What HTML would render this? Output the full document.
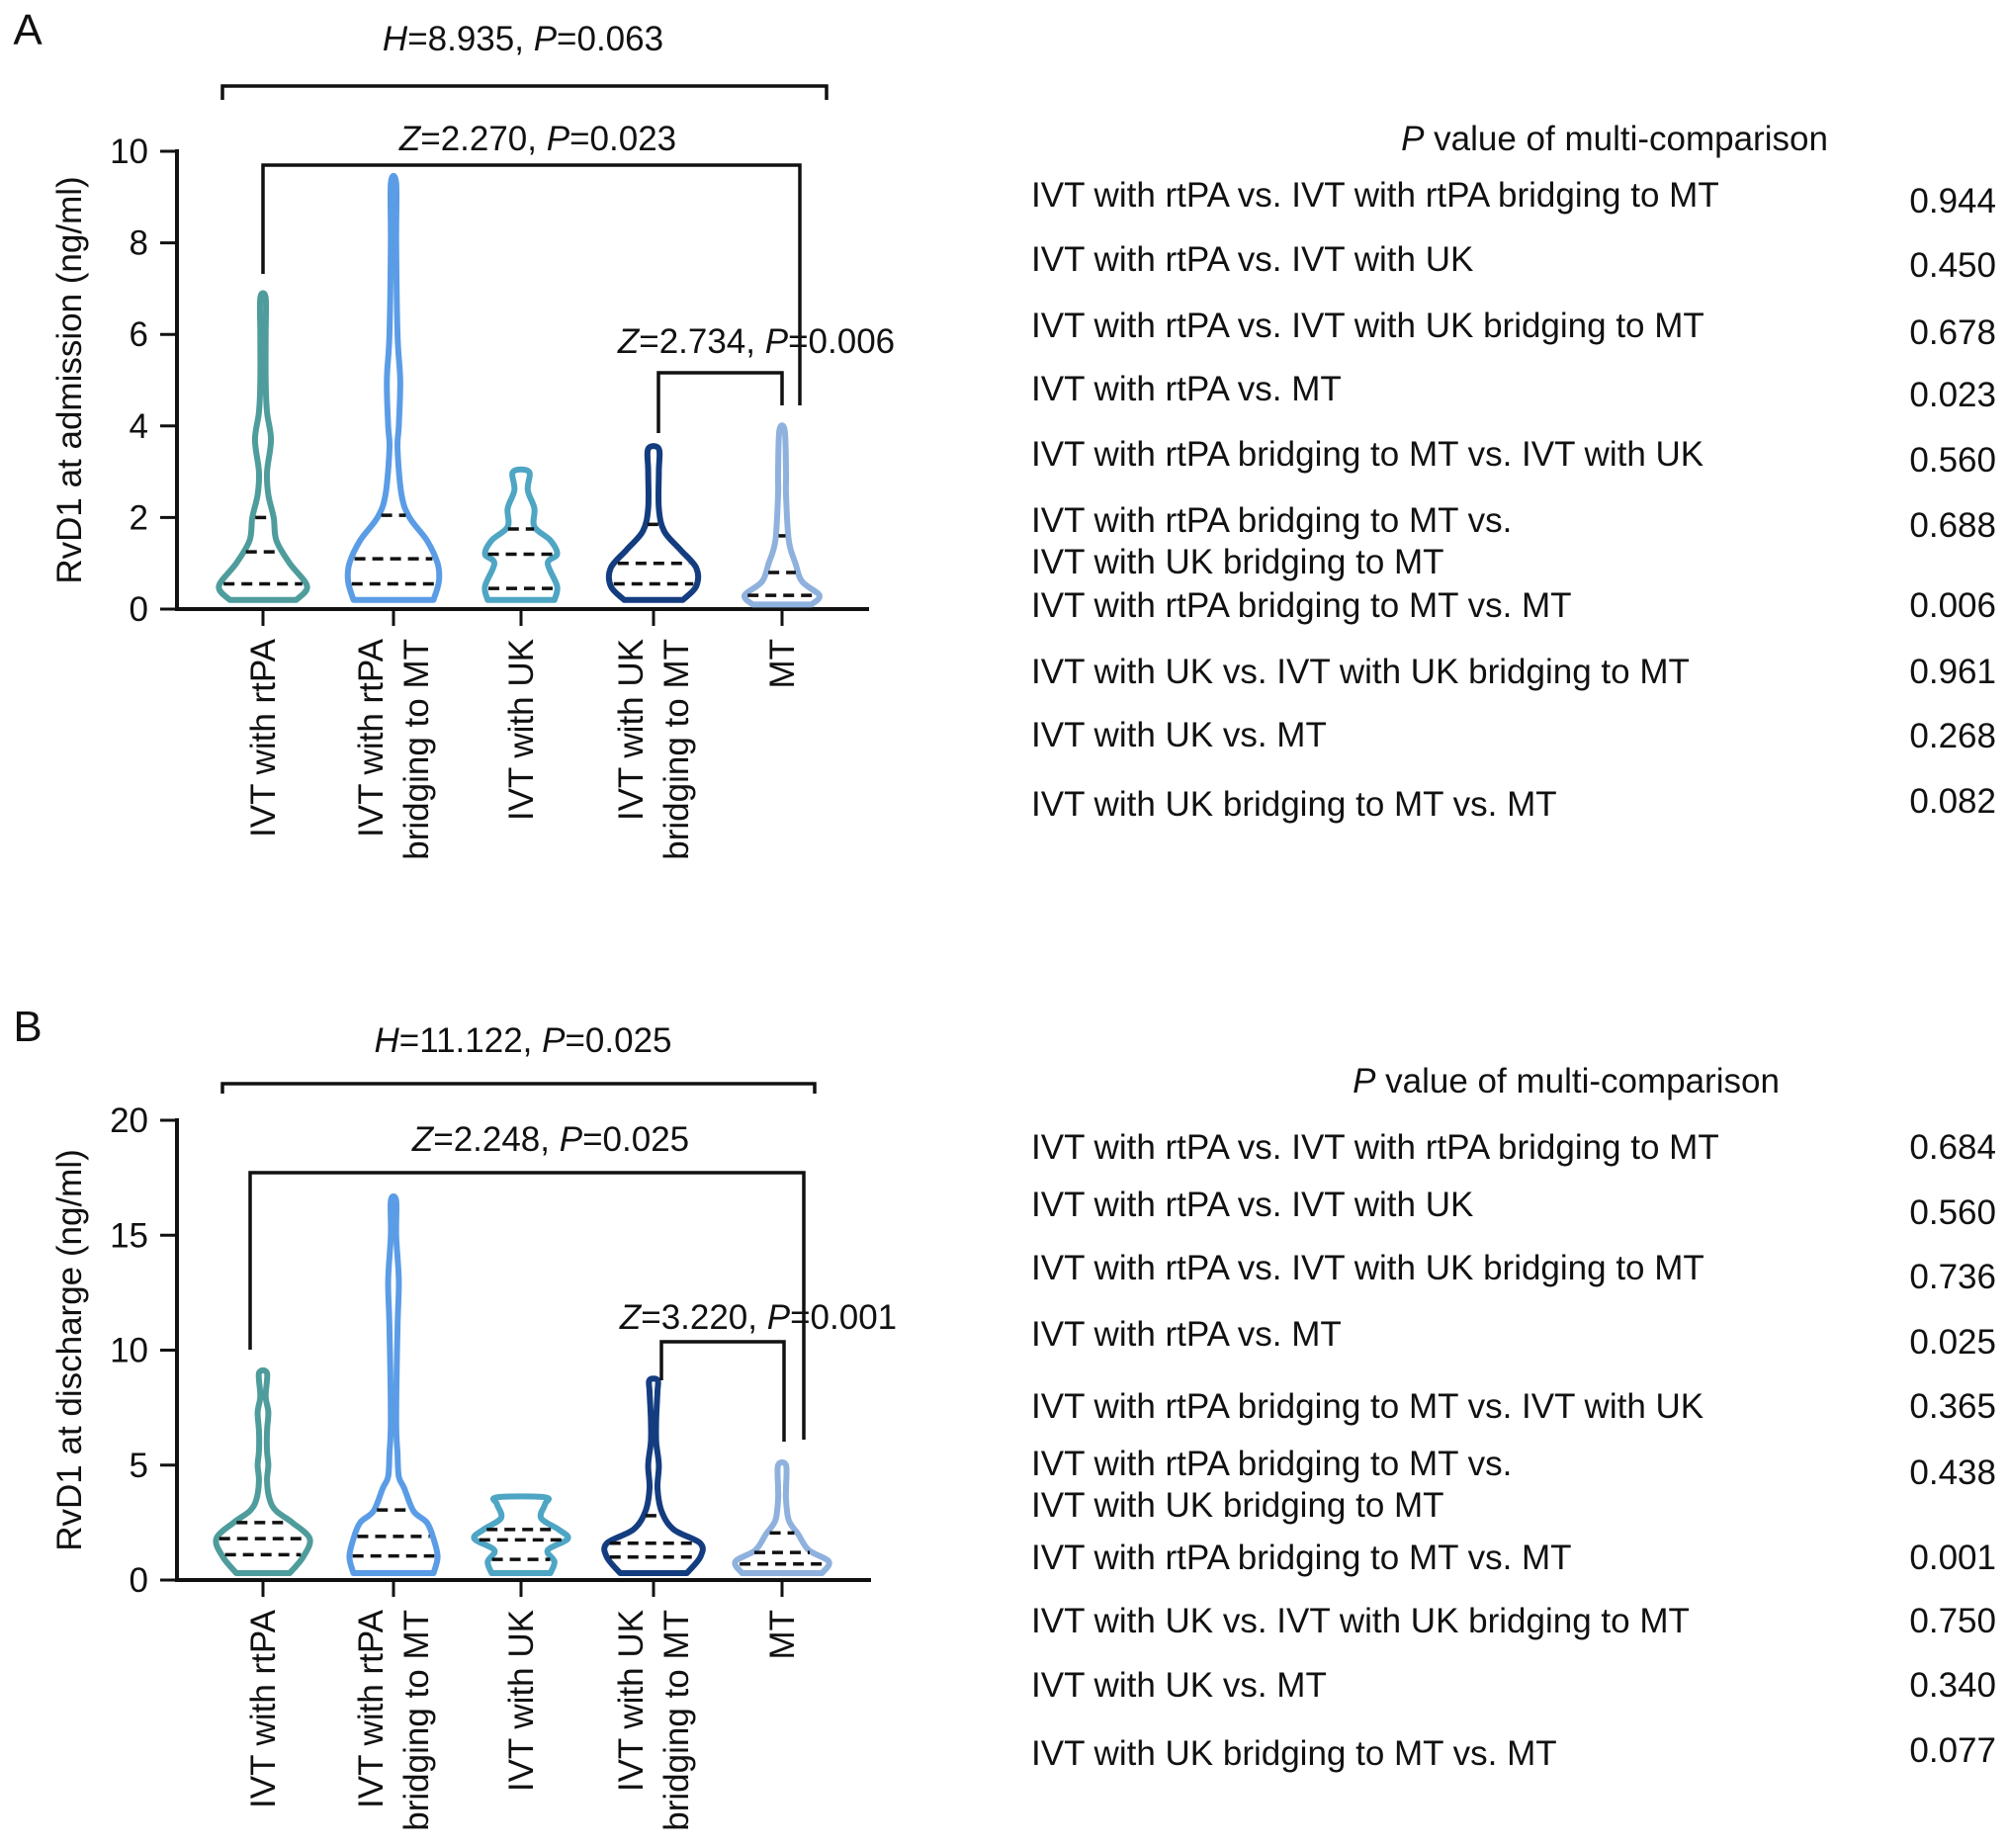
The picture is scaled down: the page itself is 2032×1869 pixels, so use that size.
<!DOCTYPE html>
<html><head><meta charset="utf-8"><style>
html,body{margin:0;padding:0;background:#fff;}
svg{display:block;font-family:"Liberation Sans",Arial,sans-serif;}
</style></head><body>
<svg id="fig" width="2032" height="1869" viewBox="0 0 2032 1869"></svg>
<script>
const categories = ["IVT with rtPA","IVT with rtPA|bridging to MT","IVT with UK","IVT with UK|bridging to MT","MT"];
const colors = ["#4f9c9c","#5b9ce6","#4ea5c4","#143d80","#8fb1dd"];
const aVals = [
 [0.2,0.5,1.0,1.5,2.0,2.5,3.0,3.7,4.3,5,6,6.8],
 [0.2,0.6,1.0,1.5,2.0,2.5,3.5,4.0,5.0,6.0,8.0,9.3],
 [0.2,0.5,1.0,1.2,1.5,1.8,2.2,2.6,3.0],
 [0.2,0.5,0.9,1.3,1.7,2.2,3.0,3.5],
 [0.1,0.3,0.6,1.0,1.5,2.5,3.0,3.9]
];
const aDens = [
 [25,33,20,10,8,4,3,6,3,2,2,2],
 [30,34,33,25,12,6,3,4,5,3,2,2],
 [25,27,20,27,22,10,10,5,6],
 [22,32,32,20,8,4,4,4],
 [22,28,15,10,5,3,3,2]
];
const aQuart = [[0.55,1.25,2.0],[0.55,1.1,2.05],[0.45,1.2,1.75],[0.55,1.0,1.85],[0.3,0.8,1.6]];
const aTicks = [0,2,4,6,8,10];
const bVals = [
 [0.3,1.0,1.8,2.5,3.0,3.5,4.3,5.0,5.6,6.5,7.3,8.0,9.0],
 [0.3,1.0,1.8,2.5,3.0,4.0,4.5,5.5,7.0,11,13,15,16.5],
 [0.3,0.8,1.3,1.8,2.2,2.7,3.3,3.6],
 [0.3,1.0,1.6,2.2,3.0,4.0,5.0,6.0,7.0,8.2,8.7],
 [0.3,0.8,1.3,2.0,2.6,3.5,4.0,5.0]
];
const bDens = [
 [20,30,35,22,10,5,3,4,3,3,4,2,3],
 [30,33,30,25,15,8,4,3,2,3,4,2,2],
 [22,25,20,35,28,15,18,18],
 [25,35,35,15,6,3,4,2,2,3,3],
 [30,35,20,12,5,3,3,3]
];
const bQuart = [[1.1,1.8,2.5],[1.05,1.9,3.05],[0.9,1.75,2.2],[1.0,1.6,2.8],[0.7,1.2,2.05]];
const bTicks = [0,5,10,15,20];
const aPairs = ["IVT with rtPA vs. IVT with rtPA bridging to MT","IVT with rtPA vs. IVT with UK","IVT with rtPA vs. IVT with UK bridging to MT","IVT with rtPA vs. MT","IVT with rtPA bridging to MT vs. IVT with UK","IVT with rtPA bridging to MT vs.|IVT with UK bridging to MT","IVT with rtPA bridging to MT vs. MT","IVT with UK vs. IVT with UK bridging to MT","IVT with UK vs. MT","IVT with UK bridging to MT vs. MT"];
const aP = ["0.944","0.450","0.678","0.023","0.560","0.688","0.006","0.961","0.268","0.082"];
const bP = ["0.684","0.560","0.736","0.025","0.365","0.438","0.001","0.750","0.340","0.077"];

const NS="http://www.w3.org/2000/svg";
const svg=document.getElementById('fig');
const FS=35;
function mk(tag,attrs,parent,name){const e=document.createElementNS(NS,tag);for(const k in attrs)e.setAttribute(k,attrs[k]);


(parent||svg).appendChild(e);return e;}
function txt(x,y,s,size,anchor,parent,name,extra){const t=mk('text',Object.assign({x:x,y:y,'font-size':size,'text-anchor':anchor||'start',fill:'#111'},extra||{}),parent,name);t.innerHTML=s;return t;}

const catX=[266,398,527,661,791];
function smoothPath(pts){
 let d='M'+pts[0][0].toFixed(1)+','+pts[0][1].toFixed(1);
 for(let i=0;i<pts.length-1;i++){
  const p0=pts[Math.max(0,i-1)],p1=pts[i],p2=pts[i+1],p3=pts[Math.min(pts.length-1,i+2)];
  const c1=[p1[0]+(p2[0]-p0[0])/6,p1[1]+(p2[1]-p0[1])/6],c2=[p2[0]-(p3[0]-p1[0])/6,p2[1]-(p3[1]-p1[1])/6];
  d+=` C${c1[0].toFixed(1)},${c1[1].toFixed(1)} ${c2[0].toFixed(1)},${c2[1].toFixed(1)} ${p2[0].toFixed(1)},${p2[1].toFixed(1)}`;
 }
 return d+' Z';
}
function panel(cfg){
 const g=mk('g',{},svg,cfg.name);
 const y=v=>cfg.y0-(v/cfg.max)*(cfg.y0-cfg.yTop);
 txt(28,cfg.letterY,cfg.letter,44,'middle',g,'panel-letter');
 mk('line',{x1:179,y1:cfg.yTop-2,x2:179,y2:cfg.y0+2,stroke:'#111','stroke-width':4},g,'y-axis');
 mk('line',{x1:177,y1:cfg.y0,x2:cfg.xEnd,y2:cfg.y0,stroke:'#111','stroke-width':4},g,'x-axis');
 cfg.ticks.forEach(t=>{mk('line',{x1:162,y1:y(t),x2:179,y2:y(t),stroke:'#111','stroke-width':3},g,'y-tick');
  txt(150,y(t)+12,t,FS,'end',g,'y-tick-label');});
 txt(0,0,cfg.ylabel,FS,'middle',g,'y-axis-title',{transform:`translate(82,${(cfg.yTop+cfg.y0)/2}) rotate(-90)`});
 categories.forEach((c,i)=>{
  mk('line',{x1:catX[i],y1:cfg.y0,x2:catX[i],y2:cfg.y0+17,stroke:'#111','stroke-width':3},g,'x-tick');
  const lines=c.split('|');
  lines.forEach((l,j)=>{
   const off=(j-(lines.length-1)/2)*46;
   txt(0,0,l,FS,'end',g,'x-category-label',{transform:`translate(${catX[i]+off+12},${cfg.y0+30}) rotate(-90)`});
  });
  const vals=cfg.vals[i],dens=cfg.dens[i],k=1.35;
  let pts=[];
  vals.forEach((v,j)=>pts.push([catX[i]+dens[j]*k,y(v)]));
  for(let j=vals.length-1;j>=0;j--)pts.push([catX[i]-dens[j]*k,y(vals[j])]);
  mk('path',{d:smoothPath(pts),fill:'none',stroke:colors[i],'stroke-width':6,'stroke-linejoin':'round'},g,'violin-'+(i+1));
  cfg.quart[i].forEach(q=>{
   let w=dens[0];
   for(let j=0;j<vals.length-1;j++){if(q>=vals[j]&&q<=vals[j+1]){const f=(q-vals[j])/(vals[j+1]-vals[j]);w=dens[j]+f*(dens[j+1]-dens[j]);}}
   w*=k;
   mk('line',{x1:catX[i]-w+3,y1:y(q),x2:catX[i]+w-3,y2:y(q),stroke:'#111','stroke-width':3.5,'stroke-dasharray':'11 7'},g,'quartile-line');
  });
 });
 cfg.brackets.forEach(b=>{
  mk('path',{d:`M${b.x1},${b.l} L${b.x1},${b.y} L${b.x2},${b.y} L${b.x2},${b.r}`,fill:'none',stroke:'#111','stroke-width':3.5},g,'significance-bracket');
  txt(b.tx,b.ty,b.label,FS,'middle',g,'significance-label');
 });
 txt(cfg.titleX,cfg.titleY,'<tspan font-style="italic">P</tspan> value of multi-comparison',FS,'middle',g,'table-title');
 aPairs.forEach((p,i)=>{
  const lines=p.split('|');
  lines.forEach((l,j)=>txt(1043,cfg.rowY[i]+12+j*42,l,FS,'start',g,'comparison-label'));
  txt(2019,cfg.valY[i]+12,cfg.p[i],FS,'end',g,'p-value');
 });
}
panel({name:'panel-a',letter:'A',letterY:45,yTop:153,y0:616,max:10,xEnd:879,ticks:aTicks,ylabel:'RvD1 at admission (ng/ml)',
 vals:aVals,dens:aDens,quart:aQuart,
 brackets:[
  {x1:225,x2:836,y:87,l:101,r:101,tx:529,ty:51,label:'<tspan font-style="italic">H</tspan>=8.935, <tspan font-style="italic">P</tspan>=0.063'},
  {x1:266,x2:809,y:167,l:277,r:410,tx:544,ty:152,label:'<tspan font-style="italic">Z</tspan>=2.270, <tspan font-style="italic">P</tspan>=0.023'},
  {x1:666,x2:791,y:377,l:438,r:410,tx:765,ty:357,label:'<tspan font-style="italic">Z</tspan>=2.734, <tspan font-style="italic">P</tspan>=0.006'}],
 titleX:1633,titleY:152,rowY:[197,262,329,393,459,526,612,679,743,813],valY:[203,268,336,399,465,531,612,679,744,810],p:aP});
panel({name:'panel-b',letter:'B',letterY:1053,yTop:1133,y0:1598,max:20,xEnd:881,ticks:bTicks,ylabel:'RvD1 at discharge (ng/ml)',
 vals:bVals,dens:bDens,quart:bQuart,
 brackets:[
  {x1:225,x2:824,y:1096,l:1106,r:1106,tx:529,ty:1064,label:'<tspan font-style="italic">H</tspan>=11.122, <tspan font-style="italic">P</tspan>=0.025'},
  {x1:253,x2:813,y:1186,l:1365,r:1456,tx:557,ty:1164,label:'<tspan font-style="italic">Z</tspan>=2.248, <tspan font-style="italic">P</tspan>=0.025'},
  {x1:669,x2:793,y:1357,l:1396,r:1458,tx:767,ty:1344,label:'<tspan font-style="italic">Z</tspan>=3.220, <tspan font-style="italic">P</tspan>=0.001'}],
 titleX:1584,titleY:1105,rowY:[1160,1218,1282,1349,1422,1480,1575,1639,1704,1773],valY:[1160,1226,1291,1357,1422,1489,1575,1639,1704,1770],p:bP});
</script>
</body></html>
